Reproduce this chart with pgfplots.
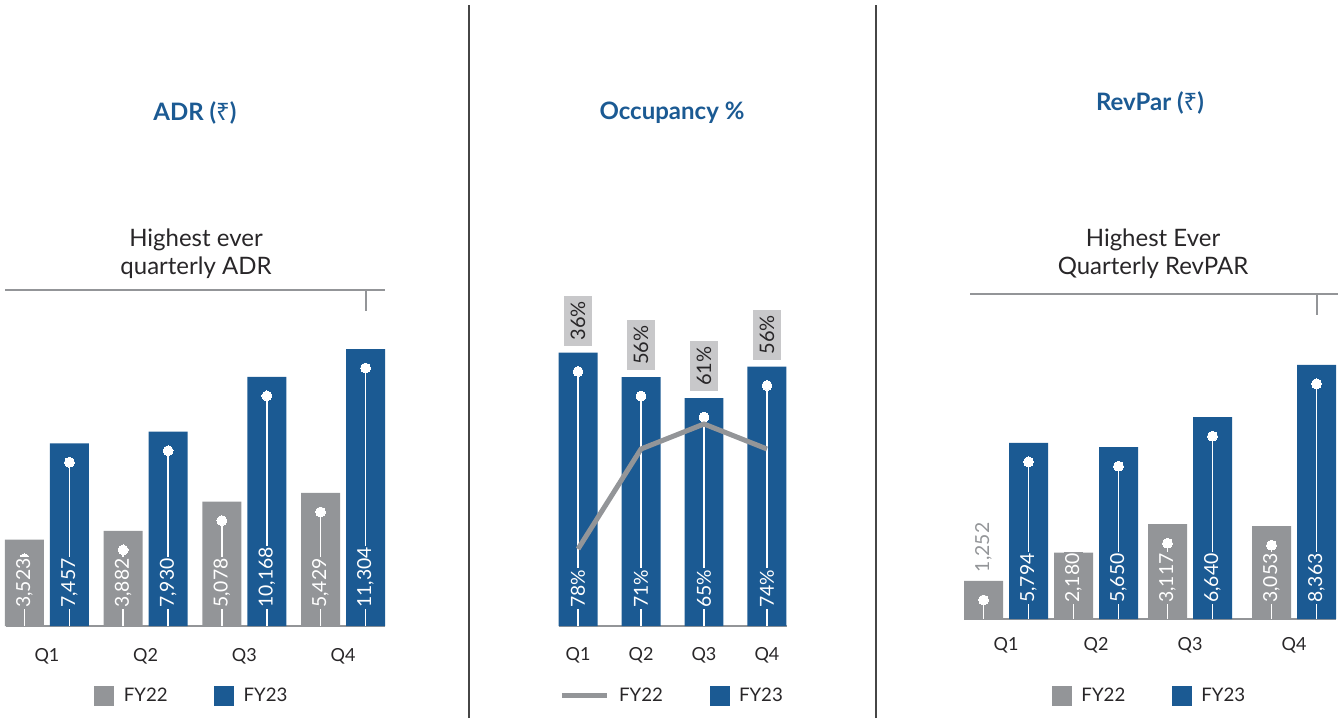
\documentclass[border=0pt]{standalone}
\usepackage{pgfplots}
\pgfplotsset{compat=1.18}
\usepackage{pgfplotstable}
\usepackage{fontspec}
\setmainfont{Lato}
\newfontfamily\rupeefont{Noto Sans}

\definecolor{fyblue}{RGB}{27,90,147}
\definecolor{fygrey}{RGB}{147,149,152}
\definecolor{boxgrey}{RGB}{200,200,202}
\definecolor{txt}{RGB}{40,38,40}
\definecolor{sepline}{RGB}{70,70,70}

% ADR (Rs)
\pgfplotstableread{
x fy22 fy23
0 3523 7457
1 3882 7930
2 5078 10168
3 5429 11304
}\adr
% Occupancy %
\pgfplotstableread{
x fy22 fy23
0 36 78
1 56 71
2 61 65
3 56 74
}\occ
% RevPar (Rs), groups are not evenly spaced in the original
\pgfplotstableread{
x fy22 fy23
0    1252 5794
0.90 2180 5650
1.84 3117 6640
2.88 3053 8363
}\revpar

\pgfplotsset{
  panel/.style={
    scale only axis, anchor=south west, clip=false,
    axis y line=none, axis x line*=bottom,
    x axis line style={fygrey, line width=1.3pt},
    xtick style={draw=none}, major tick length=0pt,
    xticklabels={Q1,Q2,Q3,Q4},
    xticklabel style={anchor=center, text=txt, font=\fontsize{13.5}{15}\selectfont},
    legend columns=2,
    legend style={draw=none, fill=none, anchor=center,
      font=\fontsize{14}{16}\selectfont, text=txt,
      /tikz/every odd column/.append style={column sep=5pt},
      /tikz/every even column/.append style={column sep=33pt}},
  },
  lolli/.style={ycomb, color=white, line width=1.4pt, mark=*, mark size=3.7pt,
    mark options={fill=white, draw=white, line width=0pt}},
  labelshift/.initial=12.5pt,
  barlabel/.style={draw=none, forget plot,
    nodes near coords={\pgfmathprintnumber[assume math mode=true,1000 sep={,}]{\pgfplotspointmeta}},
    every node near coord/.append style={yshift=\pgfkeysvalueof{/pgfplots/labelshift}, rotate=90, anchor=west,
      fill=#1, text=white, inner xsep=1pt, inner ysep=1pt,
      font=\fontsize{14.5}{17}\selectfont}},
  pctlabel/.style={draw=none, forget plot,
    nodes near coords={\pgfmathprintnumber[assume math mode=true]{\pgfplotspointmeta}\%},
    every node near coord/.append style={yshift=12.5pt, rotate=90, anchor=west,
      fill=#1, text=white, inner xsep=1pt, inner ysep=1pt,
      font=\fontsize{14.5}{17}\selectfont}},
  greybar/.style={ybar, bar width=#1, bar shift=0pt, fill=fygrey, draw=none,
    legend image code/.code={\fill[fygrey] (0pt,-7.5pt) rectangle (15pt,7.5pt);}},
  bluebar/.style={ybar, bar width=#1, bar shift=0pt, fill=fyblue, draw=none,
    legend image code/.code={\fill[fyblue] (0pt,-7.5pt) rectangle (15pt,7.5pt);}},
}

\begin{document}
\begin{tikzpicture}[x=0.75pt,y=0.75pt]
\useasboundingbox (0,0) rectangle (1338,718);

% ---------- ADR ----------
\begin{axis}[panel, at={(4.125pt,69pt)}, width=284.25pt, height=244.5pt,
  xmin=-0.42, xmax=3.42, ymin=0, ymax=13306, xtick={0,1,2,3},
  xticklabel style={yshift=-22.5pt},
  legend style={at={(0.493,-0.215)}}]
\addplot[greybar=0.395] table[x expr=\thisrow{x}-0.228, y=fy22]{\adr};
\addlegendentry{FY22}
\addplot[bluebar=0.395] table[x expr=\thisrow{x}+0.228, y=fy23]{\adr};
\addlegendentry{FY23}
\addplot[lolli, forget plot] table[x expr=\thisrow{x}-0.228, y expr=\thisrow{fy22}-775]{\adr};
\addplot[lolli, forget plot] table[x expr=\thisrow{x}+0.228, y expr=\thisrow{fy23}-775]{\adr};
\addplot[barlabel=fygrey, point meta=\thisrow{fy22}] table[x expr=\thisrow{x}-0.228, y expr=0]{\adr};
\addplot[barlabel=fyblue, point meta=\thisrow{fy23}] table[x expr=\thisrow{x}+0.228, y expr=0]{\adr};
\end{axis}

% ---------- Occupancy ----------
\begin{axis}[panel, at={(418.875pt,69pt)}, width=171pt, height=259.5pt,
  xmin=-0.31, xmax=3.31, ymin=0, ymax=98.7, xtick={0,1,2,3},
  xticklabel style={yshift=-21.75pt},
  legend style={at={(0.5,-0.202)}}]
\addlegendimage{legend image code/.code={\draw[fygrey, line width=3.75pt] (0pt,0pt) -- (34pt,0pt);}}
\addlegendentry{FY22}
\addplot[bluebar=0.619] table[x=x, y=fy23]{\occ};
\addlegendentry{FY23}
\addplot[lolli, forget plot] table[x=x, y expr=\thisrow{fy23}-5.4]{\occ};
\addplot[pctlabel=fyblue, point meta=\thisrow{fy23}] table[x=x, y expr=0]{\occ};
% FY22 values shown in grey boxes above the bars
\addplot[draw=none, forget plot, point meta=\thisrow{fy22},
  nodes near coords={\pgfmathprintnumber[assume math mode=true]{\pgfplotspointmeta}\%},
  every node near coord/.append style={yshift=5pt, rotate=90, anchor=west,
    fill=boxgrey, text=txt, inner xsep=4pt, inner ysep=5pt,
    font=\fontsize{15}{17}\selectfont}]
  table[x=x, y=fy23]{\occ};
\end{axis}
% FY22 occupancy line has its own scale
\begin{axis}[scale only axis, anchor=south west, at={(418.875pt,69pt)},
  width=171pt, height=259.5pt, xmin=-0.31, xmax=3.31, ymin=20.6, ymax=89.8,
  hide axis, clip=false]
\addplot[fygrey, line width=3.75pt, mark=none] table[x=x, y=fy22]{\occ};
\end{axis}

% ---------- RevPar ----------
\begin{axis}[panel, at={(723pt,74.25pt)}, width=279pt, height=239.25pt,
  xmin=-0.42, xmax=3.30, ymin=0, ymax=10493, xtick={0,0.9,1.84,2.88},
  xticklabel style={yshift=-19.5pt}, labelshift=11pt,
  legend style={at={(0.5,-0.241)}}]
\addplot[greybar=0.39] table[x expr=\thisrow{x}-0.225, y=fy22]{\revpar};
\addlegendentry{FY22}
\addplot[bluebar=0.39] table[x expr=\thisrow{x}+0.225, y=fy23]{\revpar};
\addlegendentry{FY23}
\addplot[lolli, forget plot] table[x expr=\thisrow{x}-0.225, y expr=\thisrow{fy22}-625]{\revpar};
\addplot[lolli, forget plot] table[x expr=\thisrow{x}+0.225, y expr=\thisrow{fy23}-625]{\revpar};
\addplot[barlabel=fygrey, point meta=\thisrow{fy22}, skip coords between index={0}{1}]
  table[x expr=\thisrow{x}-0.225, y expr=0]{\revpar};
\addplot[draw=none, forget plot, point meta=\thisrow{fy22}, skip coords between index={1}{4},
  nodes near coords={\pgfmathprintnumber[assume math mode=true,1000 sep={,}]{\pgfplotspointmeta}},
  every node near coord/.append style={yshift=5.5pt, rotate=90, anchor=west,
    text=fygrey, inner xsep=1pt, font=\fontsize{14.5}{17}\selectfont}]
  table[x expr=\thisrow{x}-0.225, y=fy22]{\revpar};
\addplot[barlabel=fyblue, point meta=\thisrow{fy23}] table[x expr=\thisrow{x}+0.225, y expr=0]{\revpar};
\end{axis}

% titles and notes
\node[font=\fontsize{18}{20}\selectfont\bfseries, text=fyblue] at (195,605) {ADR ({\rupeefont\mdseries ₹})};
\node[font=\fontsize{18}{20}\selectfont\bfseries, text=fyblue] at (672,605) {Occupancy \%};
\node[font=\fontsize{18}{20}\selectfont\bfseries, text=fyblue] at (1150,615) {RevPar ({\rupeefont\mdseries ₹})};

\node[align=center, font=\fontsize{18}{21}\selectfont, text=txt] at (196,464) {Highest ever\\quarterly ADR};
\node[align=center, font=\fontsize{18}{21}\selectfont, text=txt] at (1153,464) {Highest Ever\\Quarterly RevPAR};
\draw[fygrey, line width=1.5pt] (5,428) -- (385,428) (366,428) -- (366,407);
\draw[fygrey, line width=1.5pt] (970,424) -- (1338,424) (1317,424) -- (1317,403);

\draw[sepline, line width=1.1pt] (469,0) -- (469,713) (876,0) -- (876,713);
\end{tikzpicture}
\end{document}
